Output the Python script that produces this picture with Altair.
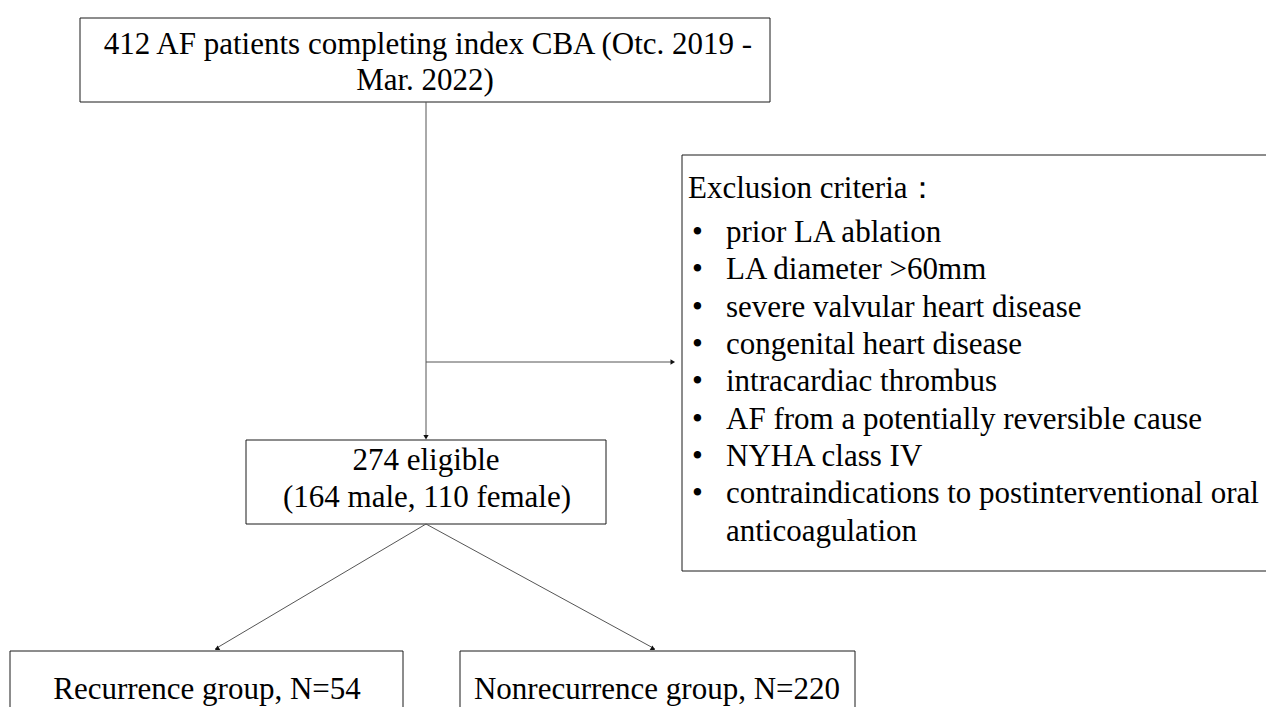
import altair as alt
import pandas as pd

# ---- text content ----
top_lines = ["412 AF patients completing index CBA (Otc. 2019 -", "Mar. 2022)"]
eligible_lines = ["274 eligible", "(164 male, 110 female)"]
exclusion_title = "Exclusion criteria："
exclusion_items = [
    "prior LA ablation",
    "LA diameter >60mm",
    "severe valvular heart disease",
    "congenital heart disease",
    "intracardiac thrombus",
    "AF from a potentially reversible cause",
    "NYHA class IV",
    "contraindications to postinterventional oral",
]
exclusion_wrap = "anticoagulation"
group_labels = ["Recurrence group, N=54", "Nonrecurrence group, N=220"]

# ---- layout (page pixel coordinates) ----
box_x = [80, 682, 246, 10, 460]
box_x2 = [770, 1300, 606, 403, 855]
box_y = [18, 155, 440, 651, 651]
box_y2 = [102, 571, 524, 740, 740]

line_x = [426, 426, 426, 426]
line_x2 = [426, 672, 215, 655]
line_y = [102, 362, 524, 524]
line_y2 = [437, 362, 649, 649]

arrow_x = [426, 672, 217.6, 652.4]
arrow_y = [436.5, 362, 648.5, 648.5]
arrow_ang = [180, 90, 239, 121]

W, H = 1258, 699
X0, Y0 = 8, 8

xs = alt.Scale(domain=[X0, X0 + W], nice=False, zero=False)
ys = alt.Scale(domain=[Y0, Y0 + H], nice=False, zero=False, reverse=True)

boxes = pd.DataFrame({"x": box_x, "x2": box_x2, "y": box_y, "y2": box_y2})
lines = pd.DataFrame({"x": line_x, "x2": line_x2, "y": line_y, "y2": line_y2})
arrows = pd.DataFrame({"x": arrow_x, "y": arrow_y, "a": arrow_ang})

center_text = pd.DataFrame({
    "t": top_lines + eligible_lines + group_labels,
    "x": [428, 425, 426, 427, 207, 657],
    "y": [45, 81, 461, 498, 690, 690],
})

left_rows = [exclusion_title] + ["•"] * len(exclusion_items) + exclusion_items + [exclusion_wrap]
item_y = [233, 270, 308, 345, 382, 420, 457, 494]
left_text = pd.DataFrame({
    "t": left_rows,
    "x": [688] + [692] * len(exclusion_items) + [726] * len(exclusion_items) + [726],
    "y": [189] + item_y + item_y + [532],
})

FONT = "Times New Roman, Liberation Serif, serif"
FS = 31

rects = alt.Chart(boxes).mark_rect(
    fill="white", stroke="#1a1a1a", strokeWidth=1, clip=True
).encode(
    x=alt.X("x:Q", scale=xs, axis=None), x2="x2:Q",
    y=alt.Y("y:Q", scale=ys, axis=None), y2="y2:Q",
)

rules = alt.Chart(lines).mark_rule(color="#555555", strokeWidth=1, clip=True).encode(
    x=alt.X("x:Q", scale=xs, axis=None), x2="x2:Q",
    y=alt.Y("y:Q", scale=ys, axis=None), y2="y2:Q",
)

heads = alt.Chart(arrows).mark_point(
    shape="triangle", filled=True, color="#111111", size=28, opacity=1
).encode(
    x=alt.X("x:Q", scale=xs, axis=None),
    y=alt.Y("y:Q", scale=ys, axis=None),
    angle=alt.Angle("a:Q", scale=None),
)

ctext = alt.Chart(center_text).mark_text(
    font=FONT, fontSize=FS, color="black", align="center", baseline="middle"
).encode(
    x=alt.X("x:Q", scale=xs, axis=None),
    y=alt.Y("y:Q", scale=ys, axis=None),
    text="t:N",
)

ltext = alt.Chart(left_text).mark_text(
    font=FONT, fontSize=FS, color="black", align="left", baseline="middle"
).encode(
    x=alt.X("x:Q", scale=xs, axis=None),
    y=alt.Y("y:Q", scale=ys, axis=None),
    text="t:N",
)

chart = alt.layer(rects, rules, heads, ctext, ltext).properties(
    width=W, height=H, padding=0, autosize=alt.AutoSizeParams(type="none"),
    background="white",
).configure_view(stroke=None)

chart.save("out.html", embed_options={"renderer": "svg", "actions": False})
